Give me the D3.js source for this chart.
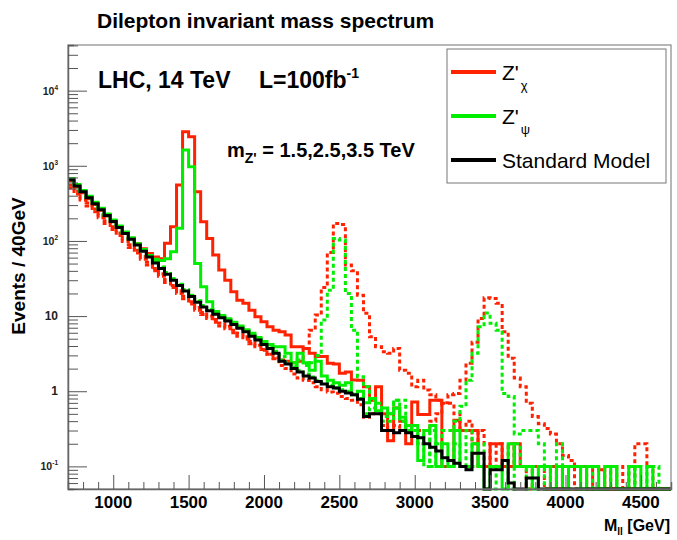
<!DOCTYPE html>
<html>
<head>
<meta charset="utf-8">
<script src="https://cdn.jsdelivr.net/npm/d3@7"></script>
<style>
  body { margin: 0; background: #fff; }
  svg text { font-family: "Liberation Sans", Arial, Helvetica, sans-serif; }
</style>
</head>
<body>
<svg id="chart" width="677" height="540"></svg>
<script>
// Chart data: 40 GeV bins from 700 to 4700 GeV
const binWidth = 40
const bins = d3.range(700, 4700, binWidth)

// Standard Model Drell-Yan
const sm = [650, 540, 450, 375, 313, 261, 218, 182, 151, 126,
  105, 88, 73, 61, 51, 43, 36, 30, 25.6, 21.6,
  18.2, 15.3, 13.2, 11.8, 10.6, 9.5, 8.6, 7.7, 6.9, 6.2,
  5.4, 4.8, 4.2, 3.7, 3.2, 2.5, 2.3, 2.0, 1.8, 1.6,
  1.5, 1.35, 1.25, 1.15, 1.1, 1.0, 0.95, 0.9, 0.78, 0.46,
  0.5, 0.5, 0.3, 0.3, 0.28, 0.3, 0.28, 0.25, 0.24, 0.2,
  0.18, 0.16, 0.13, 0.12, 0.11, 0.1, 0.09, 0.15, 0.15, 0,
  0.09, 0.09, 0.12, 0.06, 0, 0, 0.07, 0.07, 0, 0,
  0, 0, 0, 0, 0, 0, 0, 0, 0, 0,
  0, 0, 0, 0, 0, 0, 0, 0, 0, 0]

// Z'chi, m = 1.5 TeV
const zChi15 = [630, 525, 438, 365, 305, 256, 214, 180, 151, 127,
  108, 92, 79, 68, 61, 58, 93, 155, 555, 2840,
  2440, 452, 180, 108, 65, 41, 30, 21, 16.3, 14.8,
  12, 9.8, 8.4, 7.2, 6.5, 6.2, 5.6, 3.9, 3.9, 3.7,
  3.2, 2.9, 2.9, 2.35, 2.3, 1.73, 1.8, 1.41, 1.4, 1.15,
  0.76, 1.15, 0.5, 0.22, 0.6, 0.4, 0.2, 0.72, 0.49, 0.49,
  0.76, 0.76, 0.1, 0.1, 0.41, 0.3, 0.3, 0.3, 0.1, 0.1,
  0.2, 0.2, 0.1, 0.1, 0.2, 0.1, 0.1, 0.1, 0.1, 0.1,
  0.1, 0, 0.1, 0.1, 0.1, 0.1, 0, 0.1, 0.09, 0,
  0, 0, 0, 0, 0, 0, 0, 0, 0, 0]

// Z'chi, m = 2.5 TeV
const zChi25 = [505, 420, 350, 292, 244, 204, 170, 142, 118, 98,
  82, 69, 57, 48, 40, 34, 28, 24, 20, 17,
  14.5, 12, 10.5, 9.3, 8.3, 7.4, 6.8, 6.0, 5.4, 4.9,
  4.3, 3.9, 3.5, 3.1, 2.8, 2.6, 2.5, 2.4, 2.5, 3.7,
  6.5, 10.3, 24, 70, 171, 165, 48, 40, 19, 10.9,
  5.3, 3.9, 3.35, 3.2, 3.7, 1.9, 1.73, 1.15, 1.4, 1.04,
  0.9, 0.76, 0.69, 0.69, 0.5, 0.3, 0.4, 0.2, 0.3, 0.2,
  0.1, 0.2, 0.1, 0.2, 0.1, 0.1, 0, 0.1, 0.1, 0,
  0.1, 0.1, 0, 0.1, 0, 0.1, 0, 0, 0, 0,
  0, 0, 0, 0, 0, 0, 0, 0, 0, 0]

// Z'chi, m = 3.5 TeV
const zChi35 = [550, 460, 383, 319, 266, 222, 185, 155, 128, 107,
  89, 75, 62, 52, 43, 36.5, 30.5, 25.5, 21.8, 18.4,
  15.5, 13, 11.2, 10, 9.0, 8.1, 7.3, 6.5, 5.9, 5.3,
  4.6, 4.1, 3.6, 3.1, 2.7, 2.2, 2.0, 1.7, 1.5, 1.4,
  1.3, 1.15, 1.05, 0.98, 0.94, 0.85, 0.8, 0.76, 0.66, 0.45,
  0.5, 0.5, 0.35, 0.3, 0.35, 0.3, 0.3, 0.25, 0.3, 0.3,
  0.4, 0.5, 0.7, 0.9, 0.93, 1.4, 2.35, 4.5, 9.3, 17.5,
  17.2, 14.8, 6.2, 2.75, 1.5, 1.15, 0.69, 0.46, 0.37, 0.32,
  0.27, 0.2, 0.14, 0.12, 0.1, 0.1, 0.1, 0.1, 0.09, 0,
  0.1, 0, 0.1, 0, 0.2, 0.2, 0.1, 0, 0, 0]

// Z'psi, m = 1.5 TeV
const zPsi15 = [680, 565, 470, 393, 328, 273, 228, 190, 158, 132,
  110, 92, 77, 64, 57, 55, 58, 72, 147, 1620,
  970, 50, 24.6, 15.5, 11.5, 10.2, 9.2, 8.3, 7.4, 6.6,
  5.9, 5.2, 4.6, 4.2, 3.9, 3.9, 3.2, 2.4, 3.2, 2.4,
  1.9, 2.5, 1.6, 1.4, 1.3, 1.2, 1.3, 0.9, 1.0, 0.7,
  0.8, 0.55, 0.6, 0.5, 0.6, 0.45, 0.3, 0.35, 0.12, 0.3,
  0.35, 0.1, 0.2, 0.1, 0.3, 0.1, 0.1, 0.2, 0.1, 0,
  0.1, 0.1, 0, 0.2, 0.1, 0.1, 0.1, 0, 0.1, 0.1,
  0, 0.1, 0, 0.1, 0.1, 0, 0.1, 0.1, 0, 0,
  0.1, 0, 0, 0.1, 0, 0, 0.1, 0, 0, 0]

// Z'psi, m = 2.5 TeV
const zPsi25 = [660, 548, 455, 380, 318, 265, 221, 185, 153, 128,
  107, 90, 75, 63, 53, 45, 38, 31.5, 26.5, 22.4,
  19, 16, 13.8, 12.2, 11, 9.9, 8.9, 8, 7.2, 6.4,
  5.7, 5.0, 4.4, 3.9, 3.4, 2.9, 2.4, 2.2, 2.6, 2.2,
  2.4, 3.0, 8.9, 22, 108, 103, 20, 6.5, 1.56, 1.15,
  0.76, 0.69, 0.46, 0.5, 0.76, 0.76, 0.35, 0.3, 0.2, 0.3,
  0.1, 0.2, 0.1, 0.1, 0.2, 0.1, 0.3, 0.1, 0.2, 0.1,
  0, 0.1, 0.1, 0, 0.2, 0.1, 0, 0.1, 0.1, 0,
  0, 0.1, 0.1, 0, 0, 0.1, 0, 0, 0, 0.1,
  0.1, 0, 0, 0, 0.1, 0, 0, 0, 0, 0]

// Z'psi, m = 3.5 TeV
const zPsi35 = [670, 555, 462, 385, 322, 268, 224, 187, 155, 130,
  108, 90, 75, 63, 52.5, 44.5, 37, 31, 26.4, 22.3,
  18.8, 15.8, 13.6, 12.1, 10.9, 9.8, 8.8, 7.9, 7.1, 6.4,
  5.6, 4.9, 4.3, 3.8, 3.3, 2.6, 2.4, 2.1, 1.9, 1.7,
  1.55, 1.4, 1.3, 1.2, 1.1, 1.05, 1.0, 0.93, 0.8, 0.5,
  0.6, 0.6, 0.4, 0.4, 0.76, 0.4, 0.3, 0.3, 0.2, 0.1,
  0.3, 0.2, 0.3, 0.3, 0.4, 0.63, 1.4, 3.2, 7.2, 11,
  8.0, 6.5, 0.93, 0.85, 0.27, 0.3, 0.3, 0.3, 0.2, 0.1,
  0.1, 0.2, 0.1, 0.1, 0.1, 0, 0.1, 0, 0, 0.1,
  0.1, 0, 0, 0.1, 0.1, 0, 0.1, 0.1, 0, 0]

const xTickValues = [1000, 1500, 2000, 2500, 3000, 3500, 4000, 4500]
const yDecades = [-1, 0, 1, 2, 3, 4]

// Chart layout
const frameL = 68, frameR = 671, frameT = 45, frameB = 489
const yMin = 0.05, yMax = 40500
const red = '#ff2200', green = '#00ee00'

const svg = d3.select('#chart')

const x = d3.scaleLinear().domain([700, 4700]).range([frameL, frameR])
const y = d3.scaleLog().domain([yMin, yMax]).range([frameB, frameT])
const yv = v => v > yMin ? y(v) : y(yMin)

function histPath(values) {
  const pts = values.map((v, i) => [x(bins[i]), yv(v)])
  pts.push([x(bins[bins.length - 1] + binWidth), yv(values[values.length - 1])])
  return d3.line().curve(d3.curveStepAfter)(pts)
}

// Histograms (signals first, SM on top)
const series = [
  { values: zChi15, color: red, dash: null },
  { values: zChi25, color: red, dash: '4,3' },
  { values: zChi35, color: red, dash: '4,3' },
  { values: zPsi15, color: green, dash: null },
  { values: zPsi25, color: green, dash: '4,3' },
  { values: zPsi35, color: green, dash: '4,3' },
  { values: sm, color: '#000', dash: null }
]

svg.append('g')
  .attr('class', 'hists')
  .selectAll('path')
  .data(series)
  .join('path')
    .attr('d', d => histPath(d.values))
    .attr('fill', 'none')
    .attr('stroke', d => d.color)
    .attr('stroke-width', 3)
    .attr('stroke-dasharray', d => d.dash)

// Frame
svg.append('rect')
  .attr('x', frameL)
  .attr('y', frameT)
  .attr('width', frameR - frameL)
  .attr('height', frameB - frameT)
  .attr('fill', 'none')
  .attr('stroke', '#888')
  .attr('stroke-width', 1.2)

// X axis
const xAxis = d3.axisTop(x)
  .tickValues(d3.range(800, 4700, 100))
  .tickSize(7)
  .tickFormat('')
const gx = svg.append('g')
  .attr('transform', `translate(0,${frameB})`)
  .call(xAxis)
gx.select('path.domain').attr('stroke', '#666').attr('stroke-width', 1.5)
gx.selectAll('.tick line')
  .attr('stroke', '#555')
  .attr('y2', d => d % 500 === 0 ? -14 : -7)

svg.append('g')
  .selectAll('text')
  .data(xTickValues)
  .join('text')
    .attr('x', d => x(d))
    .attr('y', 508)
    .attr('text-anchor', 'middle')
    .attr('font-size', 17)
    .attr('font-weight', 'bold')
    .text(d => d)

// Y axis
const yMinorTicks = []
yDecades.concat([-2]).forEach(e => {
  for (let k = 1; k <= 9; k++) {
    const v = k * Math.pow(10, e)
    if (v >= yMin && v <= yMax) yMinorTicks.push(v)
  }
})
const yAxis = d3.axisRight(y)
  .tickValues(yMinorTicks)
  .tickFormat('')
const gy = svg.append('g')
  .attr('transform', `translate(${frameL},0)`)
  .call(yAxis)
gy.select('path.domain').attr('stroke', '#666').attr('stroke-width', 1.5)
gy.selectAll('.tick line')
  .attr('stroke', '#555')
  .attr('x2', d => Math.abs(Math.log10(d) - Math.round(Math.log10(d))) < 1e-9 ? 19 : 10)

const yLabels = svg.append('g').attr('class', 'ylabels')
yDecades.forEach(e => {
  const t = yLabels.append('text')
    .attr('x', 58)
    .attr('y', y(Math.pow(10, e)) + 4)
    .attr('text-anchor', 'end')
    .attr('font-weight', 'bold')
    .attr('fill', '#222')
  if (e === 0 || e === 1) {
    t.attr('font-size', 12).text(e === 0 ? '1' : '10')
  } else {
    t.attr('font-size', 10.5)
    t.append('tspan').text('10')
    t.append('tspan').attr('font-size', 6.5).attr('dy', -5).text(e)
  }
})

// Axis titles
svg.append('text')
  .attr('transform', 'translate(25,266) rotate(-90)')
  .attr('text-anchor', 'middle')
  .attr('font-size', 19)
  .attr('font-weight', 'bold')
  .text('Events / 40GeV')

const xt = svg.append('text')
  .attr('x', 670)
  .attr('y', 531)
  .attr('text-anchor', 'end')
  .attr('font-size', 16)
  .attr('font-weight', 'bold')
xt.append('tspan').text('M')
xt.append('tspan').attr('font-size', 10).attr('dy', 4).text('ll')
xt.append('tspan').attr('dy', -4).text(' [GeV]')

// Title and labels
svg.append('text')
  .attr('x', 97)
  .attr('y', 28)
  .attr('font-size', 21)
  .attr('font-weight', 'bold')
  .text('Dilepton invariant mass spectrum')

const lhc = svg.append('text')
  .attr('y', 88)
  .attr('font-size', 23)
  .attr('font-weight', 'bold')
lhc.append('tspan').attr('x', 98).text('LHC, 14 TeV')
lhc.append('tspan').attr('x', 259).text('L=100fb')
lhc.append('tspan').attr('font-size', 14).attr('dy', -10).text('-1')

const mz = svg.append('text')
  .attr('x', 227)
  .attr('y', 157)
  .attr('font-size', 20)
  .attr('font-weight', 'bold')
mz.append('tspan').text('m')
mz.append('tspan').attr('font-size', 14).attr('dy', 6).text("Z'")
mz.append('tspan').attr('dy', -6).text(' = 1.5,2.5,3.5 TeV')

// Legend
const legend = svg.append('g').attr('class', 'legend')
legend.append('rect')
  .attr('x', 447)
  .attr('y', 49)
  .attr('width', 219)
  .attr('height', 134)
  .attr('fill', '#fff')
  .attr('stroke', '#777')
  .attr('stroke-width', 1)

const legendItems = [
  { color: red, main: "Z'", sub: '\u03c7', ly: 72 },
  { color: green, main: "Z'", sub: '\u03c8', ly: 116 },
  { color: '#000', main: 'Standard Model', sub: null, ly: 160 }
]
legendItems.forEach(d => {
  legend.append('line')
    .attr('x1', 451).attr('x2', 496)
    .attr('y1', d.ly).attr('y2', d.ly)
    .attr('stroke', d.color)
    .attr('stroke-width', 4)
  const t = legend.append('text')
    .attr('x', 502)
    .attr('y', d.ly + 8)
    .attr('font-size', 21)
  t.append('tspan').text(d.main)
  if (d.sub) t.append('tspan').attr('font-size', 13).attr('dy', 10).attr('dx', 2).text(d.sub)
})
</script>
</body>
</html>
